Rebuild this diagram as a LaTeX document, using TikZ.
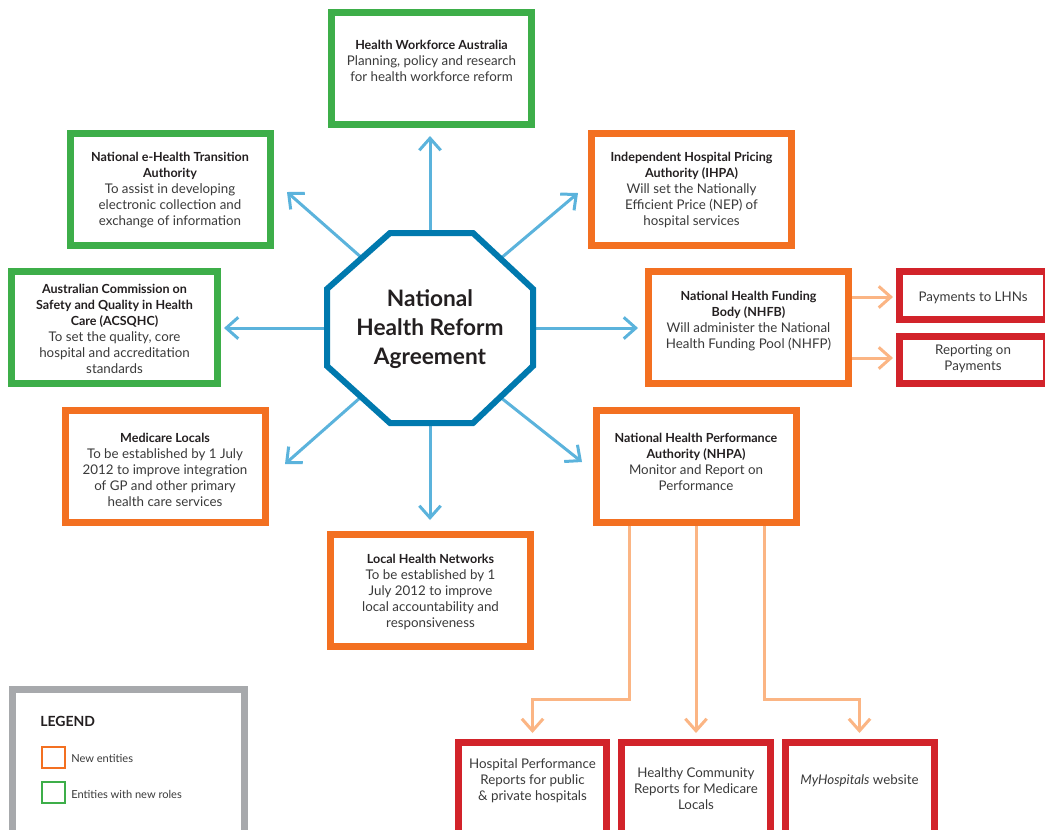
\documentclass[tikz,border=0pt]{standalone}
\usepackage{fontspec}
\setmainfont{Lato}
\usetikzlibrary{arrows.meta}
\definecolor{cgreen}{HTML}{3DAE49}
\definecolor{corange}{HTML}{F37021}
\definecolor{cred}{HTML}{D2232A}
\definecolor{cblue}{HTML}{0079AE}
\definecolor{carrow}{HTML}{5BB3DC}
\definecolor{clorange}{HTML}{FBB584}
\definecolor{cgray}{HTML}{A7A9AC}
\definecolor{ctitle}{HTML}{231F20}
\definecolor{cbody}{HTML}{3A3A3A}
\newcommand{\ttl}[1]{\textcolor{ctitle}{\fontsize{9.4}{12}\selectfont\textbf{#1}}}
\begin{document}
\begin{tikzpicture}[x=0.75pt,y=-0.75pt,
  ebox/.style={draw, line width=5.25pt, fill=white, inner sep=0pt},
  gbox/.style={ebox, draw=cgreen},
  obox/.style={ebox, draw=corange},
  rbox/.style={ebox, draw=cred},
  stdbox/.style={minimum width=150pt, minimum height=84pt},
  txt/.style={align=center, inner sep=0pt, text=cbody, font=\fontsize{10}{12}\selectfont},
  barrow/.style={draw=carrow, line width=2.25pt, -{Straight Barb[length=9pt,width=16pt]}},
  oarrow/.style={draw=clorange, line width=2.25pt, -{Straight Barb[length=9pt,width=16pt]}},
  legsq/.style={draw, line width=1.8pt, minimum width=17pt, minimum height=16pt, inner sep=0pt}
]
\useasboundingbox (0,0) rectangle (1045,829);
\clip (0,0) rectangle (1045,829);

% ---- octagon coordinates
\coordinate (oN) at (430,236);
\coordinate (oS) at (430,420);
\coordinate (oW) at (330,328);
\coordinate (oE) at (530,328);
\coordinate (oNW) at (362,258);
\coordinate (oNE) at (500,259);
\coordinate (oSW) at (361,397);
\coordinate (oSE) at (500,397);
% arrow tips
\coordinate (tN) at (430,136);
\coordinate (tS) at (430,520);
\coordinate (tW) at (224,328);
\coordinate (tE) at (638,328);
\coordinate (tNW) at (287,192);
\coordinate (tNE) at (578,193);
\coordinate (tSW) at (285,464);
\coordinate (tSE) at (582,462);

% ---- boxes
\node[gbox, stdbox] (hwa) at (431.5,68) {};
\node[gbox, stdbox] (ehealth) at (170,189) {};
\node[obox, stdbox] (ihpa) at (691.5,189) {};
\node[gbox, minimum width=154.5pt, minimum height=84pt] (acsqhc) at (114.5,327.5) {};
\node[obox, stdbox] (nhfb) at (748.5,327.5) {};
\node[obox, stdbox] (medicare) at (165,466.5) {};
\node[obox, stdbox] (nhpa) at (696,466.5) {};
\node[obox, stdbox] (lhn) at (430.5,590) {};
\node[rbox, minimum width=110.25pt, minimum height=36pt] (pay) at (973,295.5) {};
\node[rbox, minimum width=110.25pt, minimum height=35.25pt] (rep) at (973,360) {};
\node[rbox, minimum width=111pt, minimum height=74pt] (hpr) at (532.5,792) {};
\node[rbox, minimum width=111.75pt, minimum height=74pt] (hcr) at (696,792) {};
\node[rbox, minimum width=111.75pt, minimum height=74pt] (myh) at (859.5,792) {};
\node[draw=cgray, line width=5.25pt, fill=white, minimum width=173.5pt, minimum height=115pt, inner sep=0pt] (legend) at (128.5,766) {};

% ---- orange connectors
\draw[oarrow] (nhfb.east |- 0,297) -- (893,297);
\draw[oarrow] (nhfb.east |- 0,358) -- (893,358);
\coordinate (k1) at (629,699);
\coordinate (k3) at (764,699);
\draw[oarrow] (nhpa.south -| k1) -- (k1) -| (hpr.north |- 0,733);
\draw[oarrow] (nhpa.south -| hcr.north) -- (hcr.north |- 0,733);
\draw[oarrow] (nhpa.south -| k3) -- (k3) -| (myh.north |- 0,733);
% redraw the NHPA and NHFB frames over the connector starts
\node[obox, stdbox] at (nhpa) {};
\node[obox, stdbox] at (nhfb) {};

% ---- blue connectors
\foreach \a in {N,S,W,E,NW,NE,SW,SE}{\draw[barrow] (o\a) -- (t\a);}

% ---- octagon
\draw[cblue, line width=4.5pt, fill=white, line join=miter]
  (390,233) -- (473,233) -- (533,289) -- (533,366) -- (473,423) -- (390,423) -- (327,366) -- (327,289) -- cycle;
\node[align=center, inner sep=0pt, text=ctitle, font=\bfseries\fontsize{17}{21.75}\selectfont] (nhra) at (430,329)
  {National\\Health Reform\\Agreement};

% ---- texts
\node[txt] (thwa) at (431.5,61) {\ttl{Health Workforce Australia}\\Planning, policy and research\\for health workforce reform};
\node[txt] (tehealth) at (170,190) {\ttl{National e-Health Transition}\\\ttl{Authority}\\To assist in developing\\electronic collection and\\exchange of information};
\node[txt] (tihpa) at (691.5,190) {\ttl{Independent Hospital Pricing}\\\ttl{Authority (IHPA)}\\Will set the Nationally\\Efficient Price (NEP) of\\hospital services};
\node[txt] (tacsqhc) at (114.5,328.5) {\ttl{Australian Commission on}\\\ttl{Safety and Quality in Health}\\\ttl{Care (ACSQHC)}\\To set the quality, core\\hospital and accreditation\\standards};
\node[txt] (tnhfb) at (748.5,321) {\ttl{National Health Funding}\\\ttl{Body (NHFB)}\\Will administer the National\\Health Funding Pool (NHFP)};
\node[txt] (tmedicare) at (165,469.5) {\ttl{Medicare Locals}\\To be established by 1 July\\2012 to improve integration\\of GP and other primary\\health care services};
\node[txt] (tnhpa) at (696,461.5) {\ttl{National Health Performance}\\\ttl{Authority (NHPA)}\\Monitor and Report on\\Performance};
\node[txt] (tlhn) at (430.5,591.5) {\ttl{Local Health Networks}\\To be established by 1\\July 2012 to improve\\local accountability and\\responsiveness};
\node[txt] (tpay) at (973,298) {Payments to LHNs};
\node[txt] (trep) at (973,359) {Reporting on\\Payments};
\node[txt] (thpr) at (532.5,780.5) {Hospital Performance\\Reports for public\\\& private hospitals};
\node[txt] (thcr) at (696,788.5) {Healthy Community\\Reports for Medicare\\Locals};
\node[txt] (tmyh) at (859.5,780.5) {\textit{MyHospitals} website};

% ---- legend
\node[anchor=west, inner sep=0pt, text=ctitle, font=\bfseries\fontsize{10.5}{12}\selectfont] (lgtitle) at (40,721) {LEGEND};
\node[legsq, draw=corange] (lgo) at (53.5,757.5) {};
\node[legsq, draw=cgreen] (lgg) at (53.5,792.5) {};
\node[anchor=west, inner sep=0pt, text=cbody, font=\fontsize{8.3}{9}\selectfont] (lgot) at (71,758) {New entities};
\node[anchor=west, inner sep=0pt, text=cbody, font=\fontsize{8.3}{9}\selectfont] (lggt) at (71,794) {Entities with new roles};
\end{tikzpicture}
\end{document}
